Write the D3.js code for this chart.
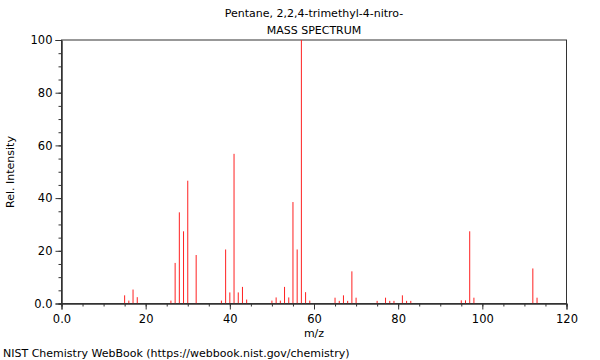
<!DOCTYPE html>
<html><head><meta charset="utf-8">
<script src="https://cdn.jsdelivr.net/npm/d3@7"></script>
<style>body{margin:0;background:#fff}svg{display:block}text{font-family:"DejaVu Sans",sans-serif;fill:#000}</style>
</head><body><svg id="c" width="600" height="360"></svg>
<script>
const title = "Pentane, 2,2,4-trimethyl-4-nitro-";
const subtitle = "MASS SPECTRUM";
const mz = [15,16,17,18,26,27,28,29,30,32,38,39,40,41,42,43,44,50,51,52,53,54,55,56,57,58,59,65,66,67,68,69,70,75,77,78,79,81,82,83,95,96,97,98,112,113];
const intensity = [3.1,1.1,5.3,2.4,1.1,15.4,34.6,27.4,46.6,18.4,1.1,20.5,4.2,56.8,4.2,6.3,1.5,1.1,2.3,1.1,6.3,2.3,38.5,20.5,100,4.3,1.1,2.2,1.0,3.1,1.0,12.2,2.2,1.0,2.2,1.0,1.0,3.1,1.0,1.0,1.2,1.2,27.4,2.2,13.3,2.2];
const xTicks = [0,20,40,60,80,100,120];
const yTicks = [0,20,40,60,80,100];

const svg = d3.select("#c");
const L=61.5, R=566.5, T=40, B=303.5;
const x = d3.scaleLinear().domain([0,120]).range([L,R]);
const y = d3.scaleLinear().domain([0,100]).range([B,T]);
const axisColor="#333";

// frame
svg.append("rect").attr("x",L).attr("y",T).attr("width",R-L).attr("height",B-T)
  .attr("fill","none").attr("stroke",axisColor).attr("stroke-width",1);

// bars
svg.append("g").selectAll("line").data(mz).join("line")
  .attr("x1",(d)=>x(d)).attr("x2",(d)=>x(d))
  .attr("y1",B).attr("y2",(d,i)=>y(intensity[i]))
  .attr("stroke","#ff2020").attr("stroke-width",1);

// x axis
const fmtX = d => d===0 ? "0.0" : String(d);
const gx = svg.append("g").attr("transform",`translate(0,${B})`)
  .call(d3.axisBottom(x).tickValues(d3.range(0,121,5)).tickSize(3).tickFormat(""));
gx.append("g").call(d3.axisBottom(x).tickValues(xTicks).tickSize(6).tickFormat(fmtX));
gx.selectAll(".domain").attr("stroke",axisColor);
gx.selectAll("line").attr("stroke",axisColor);
gx.selectAll("text").attr("font-size",11.5).attr("font-family","DejaVu Sans").attr("dy","0.9em");

// y axis
const fmtY = d => d===0 ? "0.0" : String(d);
const gy = svg.append("g").attr("transform",`translate(${L},0)`)
  .call(d3.axisLeft(y).tickValues(d3.range(0,101,5)).tickSize(3).tickFormat(""));
gy.append("g").call(d3.axisLeft(y).tickValues(yTicks).tickSize(6).tickFormat(fmtY));
gy.selectAll(".domain").attr("stroke",axisColor);
gy.selectAll("line").attr("stroke",axisColor);
gy.selectAll("text").attr("font-size",11.5).attr("font-family","DejaVu Sans");

// titles
svg.append("text").attr("x",314).attr("y",17).attr("text-anchor","middle").attr("font-size",11).text(title);
svg.append("text").attr("x",314).attr("y",34).attr("text-anchor","middle").attr("font-size",11).text(subtitle);
svg.append("text").attr("x",314).attr("y",337).attr("text-anchor","middle").attr("font-size",11).text("m/z");
svg.append("text").attr("transform","translate(14,172) rotate(-90)").attr("text-anchor","middle").attr("font-size",11).text("Rel. Intensity");
svg.append("text").attr("x",3).attr("y",357).attr("font-size",11).text("NIST Chemistry WebBook (https://webbook.nist.gov/chemistry)");
</script></body></html>
